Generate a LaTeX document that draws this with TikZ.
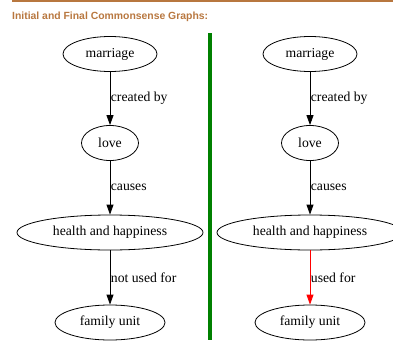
\documentclass[tikz,border=0pt]{standalone}
\usepackage{fontspec}
\setmainfont{Liberation Serif}
\newfontfamily\titlefont{Liberation Sans}
\usepackage{xcolor}
\usetikzlibrary{arrows.meta,shapes.geometric}
\definecolor{titlebrown}{HTML}{B8773F}
\definecolor{bargreen}{HTML}{008000}

\begin{document}
\begin{tikzpicture}[x=1pt,y=-1pt]
    \useasboundingbox (0,0) rectangle (393,340);

    % header rule, title and divider
    \coordinate (RuleL) at (12,1);
    \coordinate (RuleR) at (393,1);
    \coordinate (BarT) at (209.5,33);
    \coordinate (BarB) at (209.5,340);
    \draw[titlebrown, line width=1.2pt] (RuleL) -- (RuleR);
    \node[anchor=west, inner sep=0, text=titlebrown,
          font=\titlefont\bfseries\fontsize{10.4}{12}\selectfont] (Title) at (12,16.5)
          {Initial and Final Commonsense Graphs:};
    \draw[bargreen, line width=4pt] (BarT) -- (BarB);

    \begin{scope}[every node/.style = {ellipse, draw, line width=0.8pt, inner sep=0,
                                       minimum height=35, font=\fontsize{13.7}{16}\selectfont}]
        % initial graph
        \node[minimum width=94]  (M1) at (110, 54)    {marriage};
        \node[minimum width=57]  (L1) at (110, 143)   {love};
        \node[minimum width=186] (H1) at (110, 232.5) {health and happiness};
        \node[minimum width=110] (F1) at (110, 322.5) {family unit};

        % final graph
        \node[minimum width=94]  (M2) at (310, 54)    {marriage};
        \node[minimum width=57]  (L2) at (310, 143)   {love};
        \node[minimum width=186] (H2) at (310, 232.5) {health and happiness};
        \node[minimum width=110] (F2) at (310, 322.5) {family unit};
    \end{scope}

    \begin{scope}[>={Triangle[length=10pt,width=7pt]},
                    every node/.style={right, inner sep=0.5pt, font=\fontsize{13.7}{16}\selectfont},
                    every edge/.style={draw=black, line width=0.8pt}]
         \path [->] (M1) edge node {created by} (L1);
         \path [->] (L1) edge node {causes} (H1);
         \path [->] (H1) edge node {not used for} (F1);

         \path [->] (M2) edge node {created by} (L2);
         \path [->] (L2) edge node {causes} (H2);
         \path [->] (H2) edge[draw=red] node {used for} (F2);
    \end{scope}
\end{tikzpicture}
\end{document}
